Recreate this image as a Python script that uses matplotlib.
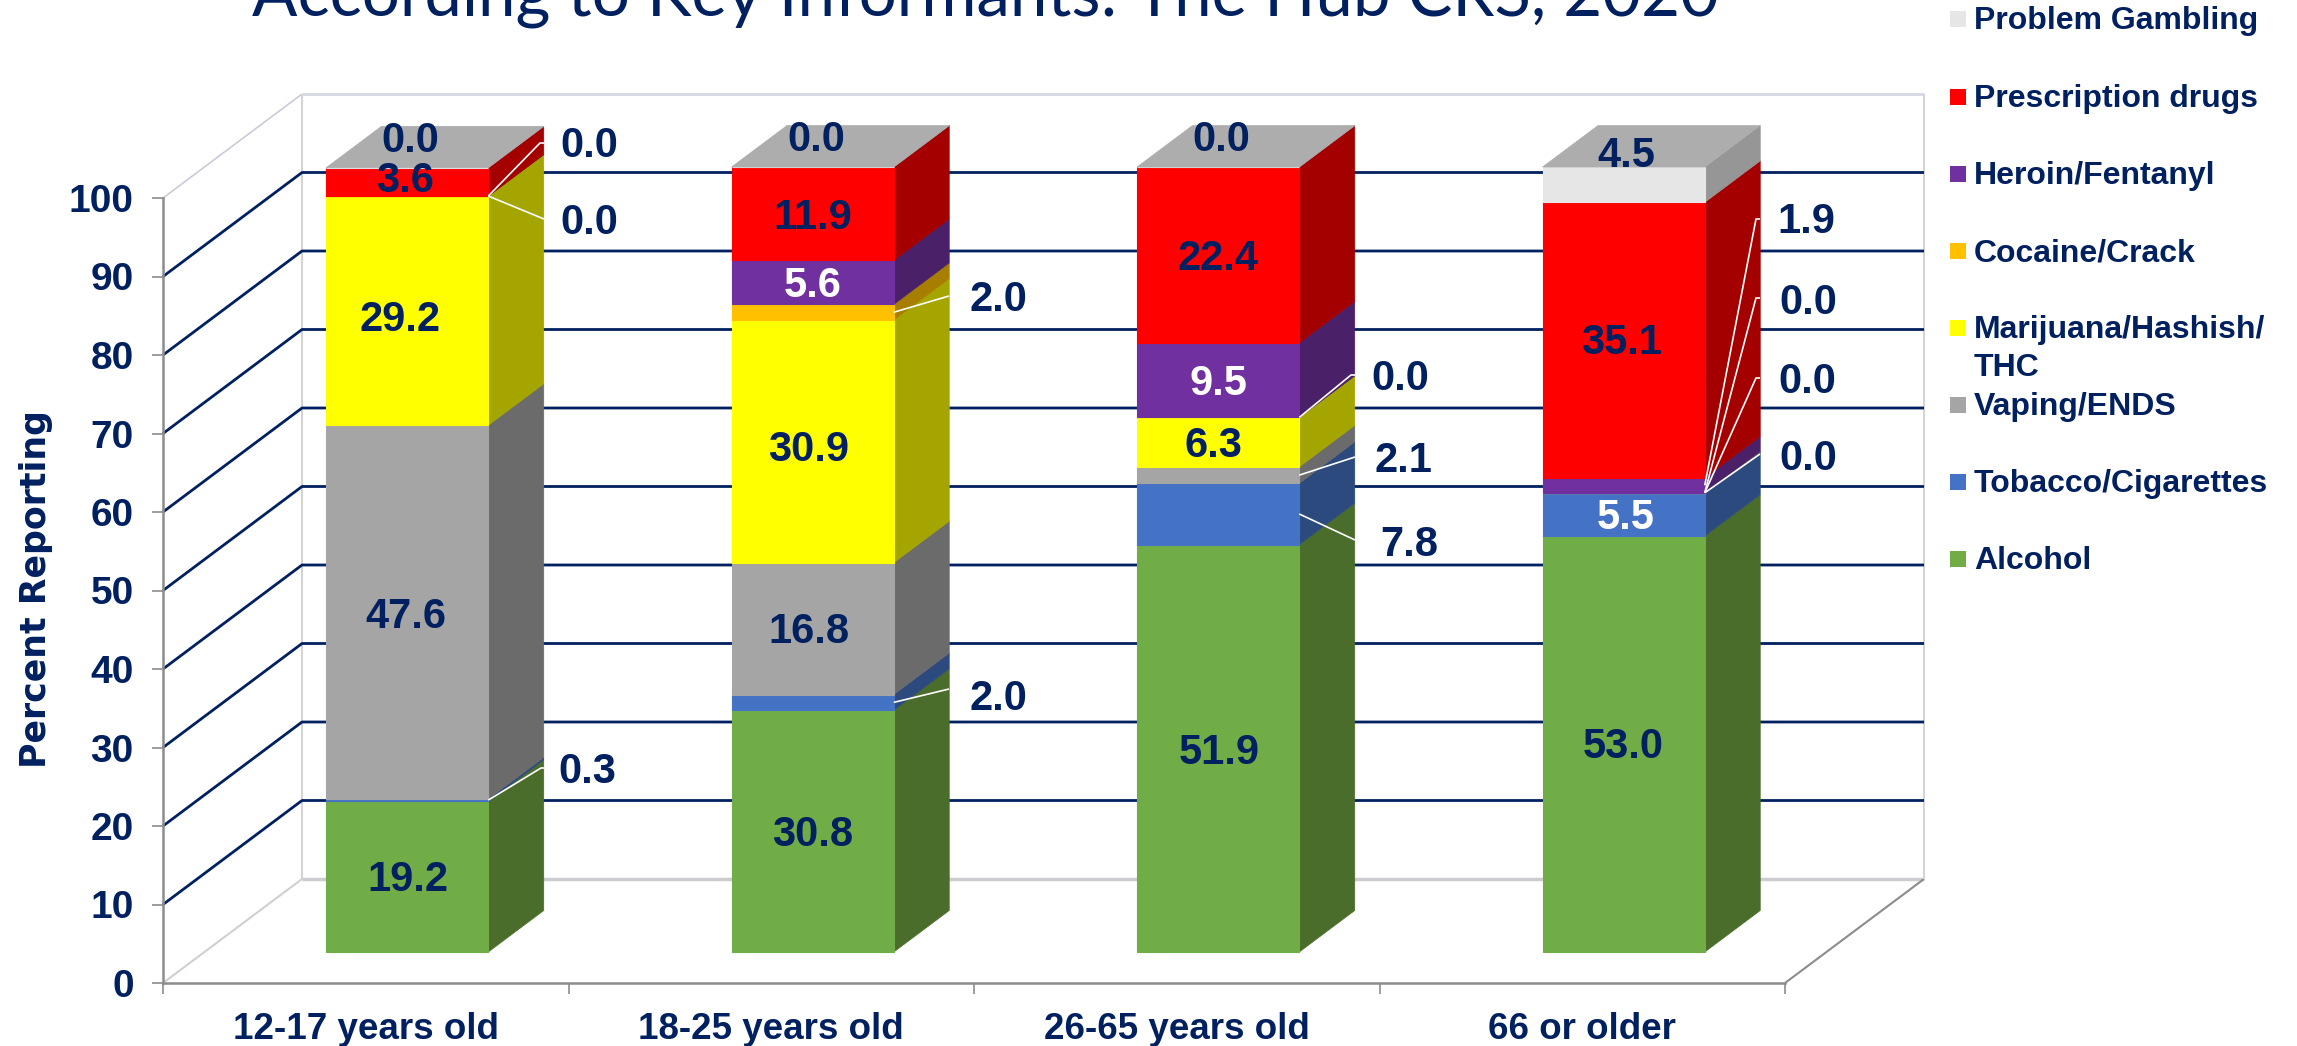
import matplotlib
matplotlib.use('Agg')
import matplotlib.pyplot as plt
from matplotlib.patches import Polygon, Rectangle

# Datos
grupos = ['12-17 years old', '18-25 years old', '26-65 years old', '66 or older']
sustancias = ['Alcohol', 'Tobacco/Cigarettes', 'Vaping/ENDS', 'Marijuana/Hashish/\nTHC',
              'Cocaine/Crack', 'Heroin/Fentanyl', 'Prescription drugs', 'Problem Gambling']
alcohol = [19.2, 30.8, 51.9, 53.0]
tabaco = [0.3, 2.0, 7.8, 5.5]
vapeo = [47.6, 16.8, 2.1, 0.0]
marihuana = [29.2, 30.9, 6.3, 0.0]
cocaina = [0.0, 2.0, 0.0, 0.0]
heroina = [0.0, 5.6, 9.5, 1.9]
recetados = [3.6, 11.9, 22.4, 35.1]
juego = [0.0, 0.0, 0.0, 4.5]
series = [alcohol, tabaco, vapeo, marihuana, cocaina, heroina, recetados, juego]
ticks_y = [0, 10, 20, 30, 40, 50, 60, 70, 80, 90, 100]

# Colores: cara frontal y cara lateral
frente = ['#70AD47', '#4472C4', '#A5A5A5', '#FFFF00', '#FFC000', '#7030A0', '#FF0000', '#E6E6E6']
lado = ['#4A6D2B', '#2C4A7E', '#6B6B6B', '#A5A500', '#A87E00', '#4A2068', '#A50000', '#969696']
techo = '#ADADAD'
azul = '#002060'

W, H = 2297, 1046
# Caja de ejes en pixeles
X0, X1, Y0, Y100 = 163, 1785, 983, 198
# Proyeccion oblicua: desplazamiento de la pared del fondo
FONDO_X = 139 / 405.5
FONDO_Y = 104 / 7.85
ANCHO = 0.4
D_INI, D_FIN = 0.298, 0.697

plt.rcParams['font.family'] = ['Liberation Sans', 'DejaVu Sans']

fig = plt.figure(figsize=(W / 100, H / 100), dpi=100)
ax = fig.add_axes([X0 / W, 1 - Y0 / H, (X1 - X0) / W, (Y0 - Y100) / H])
ax.set_xlim(0, 4)
ax.set_ylim(0, 100)


def proyectar(x, v, d):
    return x + FONDO_X * d, v + FONDO_Y * d


def pix(px, py):
    # de pixeles de la imagen a coordenadas de datos
    return (px - X0) / (X1 - X0) * 4, (Y0 - py) / (Y0 - Y100) * 100


def linea(xs, ys, color, lw, z=1):
    ax.plot(xs, ys, color=color, lw=lw, zorder=z, clip_on=False, solid_capstyle='butt')


# Paredes y piso
xf, _ = proyectar(0, 0, 1)
xd, _ = proyectar(4, 0, 1)
linea([0, xf], [100, 100 + FONDO_Y], '#C9CCD6', 1.2)
linea([xf, xf], [100 + FONDO_Y, FONDO_Y], '#D4D4D4', 1.5)
linea([0, xf], [0, FONDO_Y], '#D0D0D0', 1.5)
linea([xf, xd], [FONDO_Y, FONDO_Y], '#CBCBD0', 2.5)
linea([xf, xd], [100 + FONDO_Y, 100 + FONDO_Y], '#D5D8E0', 2)
linea([4, xd], [0, FONDO_Y], '#8C8C8C', 1.5)
linea([xd, xd], [FONDO_Y, 100 + FONDO_Y], '#D4D4D8', 1.5)

# Lineas de la cuadricula
for v in ticks_y[1:-1]:
    linea([0, xf, xd], [v, v + FONDO_Y, v + FONDO_Y], azul, 2)

# Barras apiladas en 3D
for i in range(len(grupos)):
    x0 = i + 0.5 - ANCHO / 2
    x1 = x0 + ANCHO
    base = 0
    for s, valores in enumerate(series):
        alto = valores[i]
        a = proyectar(x0, base, D_INI)
        b = proyectar(x1, base, D_INI)
        c = proyectar(x1, base + alto, D_INI)
        d = proyectar(x0, base + alto, D_INI)
        e = proyectar(x1, base, D_FIN)
        f = proyectar(x1, base + alto, D_FIN)
        ax.add_patch(Polygon([b, e, f, c], closed=True, fc=lado[s], ec=lado[s], lw=0.5,
                             zorder=3, clip_on=False))
        ax.add_patch(Polygon([a, b, c, d], closed=True, fc=frente[s], ec=frente[s], lw=0.8,
                             zorder=4, clip_on=False))
        base += alto
    t1 = proyectar(x0, base, D_INI)
    t2 = proyectar(x1, base, D_INI)
    t3 = proyectar(x1, base, D_FIN)
    t4 = proyectar(x0, base, D_FIN)
    ax.add_patch(Polygon([t1, t2, t3, t4], closed=True, fc=techo, ec=techo, lw=0.5,
                         zorder=4, clip_on=False))

# Ejes
for lado_eje in ['top', 'right']:
    ax.spines[lado_eje].set_visible(False)
for lado_eje in ['left', 'bottom']:
    ax.spines[lado_eje].set_color('#8C8C8C')
    ax.spines[lado_eje].set_linewidth(1.8)
ax.patch.set_alpha(0)
ax.set_yticks(ticks_y)
ax.set_xticks([0, 1, 2, 3, 4])
ax.set_xticklabels([])
ax.set_xticks([0.5, 1.5, 2.5, 3.5], minor=True)
ax.set_xticklabels(grupos, minor=True, fontsize=26.5, fontweight='bold', color=azul)
ax.tick_params(axis='x', which='major', length=8, width=1.2, color='#8C8C8C')
ax.tick_params(axis='x', which='minor', length=0, pad=21)
ax.tick_params(axis='y', length=8, width=1.2, color='#8C8C8C', pad=13,
               labelsize=28, labelcolor=azul)
for t in ax.get_yticklabels():
    t.set_fontweight('bold')

# Etiquetas de datos: serie, posicion en pixeles, color
pos_etiquetas = [
    # grupo 1
    [(0, (408, 877), azul), (1, (587, 769), azul), (2, (406, 614), azul), (3, (400, 317), azul),
     (4, (589, 220), azul), (5, (589, 143), azul), (6, (405, 178), azul), (7, (410, 138), azul)],
    # grupo 2
    [(0, (813, 832), azul), (1, (998, 696), azul), (2, (809, 629), azul), (3, (809, 447), azul),
     (4, (998, 297), azul), (5, (813, 283), 'white'), (6, (813, 215), azul), (7, (816, 137), azul)],
    # grupo 3
    [(0, (1219, 750), azul), (1, (1409, 542), azul), (2, (1403, 458), azul), (3, (1213, 443), azul),
     (4, (1400, 376), azul), (5, (1218, 381), 'white'), (6, (1218, 256), azul), (7, (1221, 137), azul)],
    # grupo 4
    [(0, (1623, 744), azul), (1, (1626, 515), 'white'), (2, (1808, 456), azul), (3, (1807, 379), azul),
     (4, (1808, 300), azul), (5, (1806, 219), azul), (6, (1622, 340), azul), (7, (1626, 153), azul)],
]
# (grupo, serie) con linea guia y su punto final en pixeles
guias = {
    (0, 1): (545, 768), (0, 4): (544, 219), (0, 5): (544, 143),
    (1, 1): (949, 689), (1, 4): (949, 296),
    (2, 1): (1355, 540), (2, 2): (1355, 457), (2, 4): (1355, 375),
    (3, 2): (1760, 454), (3, 3): (1760, 378), (3, 4): (1760, 298), (3, 5): (1760, 219),
}
# guias que terminan con un tramo horizontal corto
con_codo = [(0, 1), (0, 5), (2, 4), (3, 3), (3, 4), (3, 5)]

for i, etiquetas in enumerate(pos_etiquetas):
    for s, (px, py), color in etiquetas:
        valor = series[s][i]
        # +3 px: el centro de la fuente queda algo alto
        fig.text(px / W, 1 - (py + 3) / H, f'{valor:.1f}', fontsize=30, fontweight='bold', color=color,
                 ha='center', va='center', zorder=10)

for (i, s), destino in guias.items():
    base = sum(series[k][i] for k in range(s))
    ini = proyectar(i + 0.5 + ANCHO / 2, base + series[s][i] / 2, D_INI)
    fin = pix(*destino)
    if (i, s) in con_codo:
        codo = pix(destino[0] - 4, destino[1])
        linea([ini[0], codo[0], fin[0]], [ini[1], codo[1], fin[1]], 'white', 1.2, z=6)
    else:
        linea([ini[0], fin[0]], [ini[1], fin[1]], 'white', 1.2, z=6)

# Leyenda manual
pos_leyenda = [559, 482, 405, 328, 251, 174, 96.5, 19]
for s, y in enumerate(pos_leyenda):
    fig.add_artist(Rectangle((1950 / W, 1 - (y + 8) / H), 16 / W, 16 / H, fc=frente[s], ec='none',
                             transform=fig.transFigure))
    partes = sustancias[s].split('\n')
    for k, parte in enumerate(partes):
        fig.text(1974 / W, 1 - (y + 2 + 38 * k) / H, parte, fontsize=23, fontweight='bold', color=azul,
                 va='center')

fig.text(985 / W, 1 - 16 / H, 'According to Key Informants: The Hub CRS, 2020', fontsize=48.3, color=azul,
         ha='center', va='baseline', family=['Lato', 'DejaVu Sans'])
fig.text(36 / W, 1 - 589 / H, 'Percent Reporting', fontsize=25, fontweight='bold', color=azul,
         rotation=90, ha='center', va='center', family=['DejaVu Sans'])

fig.savefig('out.png', dpi=100)
